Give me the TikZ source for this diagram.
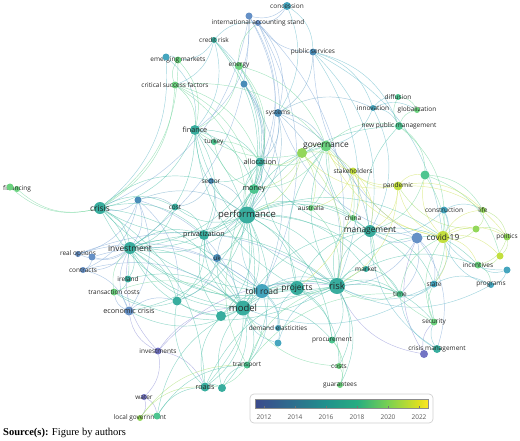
\documentclass[tikz,border=0pt]{standalone}
\usepackage{fontspec}
\setmainfont{Open Sans}
\newfontfamily\captionfont{Liberation Serif}
\usetikzlibrary{backgrounds}

\definecolor{nblue}{HTML}{6590C6}
\definecolor{nsteel}{HTML}{4A8DB8}
\definecolor{npurple}{HTML}{7374C4}
\definecolor{nteal}{HTML}{45A5BE}
\definecolor{nsea}{HTML}{38AD9E}
\definecolor{ngreen}{HTML}{4DC590}
\definecolor{nlight}{HTML}{6BD27E}
\definecolor{nlime}{HTML}{93D75A}
\definecolor{nyellow}{HTML}{C3DF3E}
\definecolor{eblue}{HTML}{7DA6D6}
\definecolor{esteel}{HTML}{6FA8C8}
\definecolor{epurple}{HTML}{8E90D6}
\definecolor{eteal}{HTML}{62B8C8}
\definecolor{esea}{HTML}{4DBFA8}
\definecolor{egreen}{HTML}{6ED49A}
\definecolor{elime}{HTML}{A5DD6A}
\definecolor{eyellow}{HTML}{CFE25A}
\definecolor{yA}{HTML}{3B4A8C}
\definecolor{yB}{HTML}{2D708E}
\definecolor{yC}{HTML}{21918C}
\definecolor{yD}{HTML}{27AD81}
\definecolor{yE}{HTML}{7AD151}
\definecolor{yF}{HTML}{E0E020}
\definecolor{yG}{HTML}{FDE725}
\pgfdeclarehorizontalshading{yearbar}{100bp}{color(0bp)=(yA); color(25bp)=(yA); color(36.5bp)=(yB); color(45.5bp)=(yC); color(54.5bp)=(yD); color(63.5bp)=(yE); color(72.5bp)=(yF); color(75bp)=(yG); color(100bp)=(yG)}

\begin{document}
\begin{tikzpicture}[
                x=1pt, y=-1pt,
                kw/.style={circle, inner sep=0pt, draw=none},
                ls/.style={font=\fontsize{6.5}{7}\selectfont, text=black!85, inner sep=0pt, fill=none},
                lm/.style={font=\fontsize{7.2}{8}\selectfont, text=black!85, inner sep=0pt, fill=none},
                ll/.style={font=\fontsize{8.4}{9}\selectfont, text=black!85, inner sep=0pt, fill=none},
                lx/.style={font=\fontsize{9.5}{10}\selectfont, text=black!85, inner sep=0pt, fill=none},
                link/.style={line width=0.45pt, draw opacity=0.6, bend left=27}
            ]

            \useasboundingbox (0,0) rectangle (520,440);

            \foreach \n/\x/\y/\d/\c/\f/\t in {
                    concession/287/6/8/nteal/ls/concession,
                    intacc/258/23/6/nblue/ls/international accounting stand,
                    creditrisk/214/40/6/nsea/ls/credit risk,
                    pubserv/313/52/7/nsteel/ls/public services,
                    emerging/178/60/7/nlight/ls/emerging markets,
                    energy/239/66/8/nlight/ls/energy,
                    csf/175/85/7/nlight/ls/critical success factors,
                    diffusion/398/97/6/ngreen/ls/diffusion,
                    innovation/373/108/6/nteal/ls/innovation,
                    global/417/110/6/nlight/ls/globalization,
                    systems/278/113/8/nsteel/ls/systems,
                    npm/399/126/8/ngreen/ls/new public management,
                    finance/195/130/10/nsea/lm/finance,
                    turkey/214/142/6/ngreen/ls/turkey,
                    gov/326/146/11/nlight/ll/governance,
                    alloc/260/162/9/nsea/lm/allocation,
                    stake/353/171/7/nyellow/ls/stakeholders,
                    sector/211/181/6/nsteel/ls/sector,
                    pandemic/398/186/9/nyellow/ls/pandemic,
                    financing/17/189/6/nlight/ls/financing,
                    money/254/189/10/ngreen/lm/money,
                    cost/175/207/7/nsea/ls/cost,
                    crisis/100/208/12/nsea/ll/crisis,
                    australia/311/208/6/nlight/ls/australia,
                    construction/444/210/7/nteal/ls/construction,
                    life/483/210/6/nlime/ls/life,
                    perf/247/215/17/nsea/lx/performance,
                    china/353/218/6/nlight/ls/china,
                    mgmt/370/231/12/nsea/ll/management,
                    priv/204/235/10/nsea/lm/privatization,
                    covid/443/237/12/nyellow/ll/covid-19,
                    politics/507/237/7/nlime/ls/politics,
                    invest/130/248/12/nsea/ll/investment,
                    realopt/78/254/6/nblue/ls/real options,
                    uk/217/258/8/nsteel/ls/uk,
                    incentives/478/265/7/nlight/ls/incentives,
                    market/366/269/6/nsea/ls/market,
                    contracts/83/270/6/nblue/ls/contracts,
                    ireland/128/279/7/nsea/ls/ireland,
                    state/434/284/7/nteal/ls/state,
                    programs/491/285/6/nteal/ls/programs,
                    risk/337/286/16/nsea/lx/risk,
                    projects/297/288/14/nsea/ll/projects,
                    tollroad/262/291/14/nteal/ll/toll road,
                    transcosts/114/292/7/nlight/ls/transaction costs,
                    time/400/294/7/ngreen/ls/time,
                    model/243/308/15/nsea/lx/model,
                    econcrisis/129/311/9/nblue/lm/economic crisis,
                    security/434/322/7/nlight/ls/security,
                    demand/278/328/6/nteal/ls/demand elasticities,
                    procurement/332/340/7/ngreen/ls/procurement,
                    crisismgmt/437/349/8/nsea/ls/crisis management,
                    investments/158/351/7/npurple/ls/investments,
                    transport/247/365/7/ngreen/ls/transport,
                    costs/339/366/6/nlight/ls/costs,
                    guarantees/340/385/6/nlight/ls/guarantees,
                    roads/205/387/9/nsea/lm/roads,
                    water/144/397/6/npurple/ls/water,
                    localgov/140/418/6/nlime/ls/local government}
                \node[kw, minimum size=\d pt, fill=\c, label={[\f]center:\t}] (\n) at (\x,\y) {};

            \foreach \n/\x/\y/\d/\c in {
                    intaccB/249/16/7/nblue, emergingB/166/57/7/nteal, energyB/244/84/7/nsteel,
                    govB/302/153/10/nlime, pandemicB/425/175/9/ngreen, financingB/10/187/7/nlight,
                    crisisB/138/200/7/nsteel, covidB/417/238/11/nblue, lifeB/476/229/7/nlime,
                    politicsB/500/256/7/nyellow, incentB/507/270/7/nteal, realoptB/92/257/7/nblue,
                    econB/177/301/9/nsea, modelB/221/316/10/nsea, demandB/278/343/7/nteal,
                    crisismgmtB/424/354/8/npurple, roadsB/222/388/8/nsea, localgovB/157/416/7/ngreen}
                \node[kw, minimum size=\d pt, fill=\c] (\n) at (\x,\y) {};

            \begin{scope}[on background layer]
                \foreach \a/\b in {intacc/perf, intaccB/finance, intaccB/crisis, intaccB/alloc, intacc/systems, intacc/tollroad,
                        intaccB/invest, concession/intacc, concession/intaccB, intacc/intaccB, pubserv/intacc, covidB/state,
                        covidB/crisismgmt, covidB/pubserv, covidB/systems, covidB/risk, covidB/mgmt, covidB/time, crisisB/invest,
                        crisisB/realopt, crisisB/contracts, crisisB/econcrisis, crisisB/econB, crisisB/crisis, invest/realopt,
                        invest/realoptB, invest/contracts, realopt/realoptB, realoptB/contracts, contracts/econcrisis,
                        realopt/tollroad, realoptB/tollroad, contracts/model, econcrisis/invest, econcrisis/econB,
                        econcrisis/transcosts, intaccB/money, intacc/risk, crisisB/model, realopt/risk}
                    \draw[link, eblue] (\a) to (\b);
                \foreach \a/\b in {pubserv/systems, systems/perf, systems/gov, systems/mgmt, systems/innovation, systems/alloc,
                        systems/risk, uk/priv, uk/tollroad, uk/perf, uk/econB, sector/priv, sector/cost, sector/perf,
                        energyB/alloc, energyB/tollroad, energyB/money, energyB/perf, crisisB/cost, crisisB/perf}
                    \draw[link, esteel] (\a) to (\b);
                \foreach \a/\b in {investments/water, investments/econcrisis, investments/model, investments/risk,
                        water/localgov, water/localgovB, crisismgmtB/security, crisismgmtB/covidB, crisismgmtB/risk,
                        investments/roads, investments/invest}
                    \draw[link, epurple] (\a) to (\b);
                \foreach \a/\b in {concession/pubserv, pubserv/risk, pubserv/mgmt, pubserv/innovation, pubserv/npm,
                        pubserv/covid, creditrisk/finance, creditrisk/csf, creditrisk/emerging, creditrisk/alloc,
                        creditrisk/intacc, tollroad/demand, tollroad/demandB, tollroad/transport, tollroad/priv, tollroad/perf,
                        tollroad/projects, tollroad/model, tollroad/risk, demand/model, demandB/model, demandB/risk,
                        demand/projects, construction/covid, construction/mgmt, construction/life, construction/state,
                        state/programs, state/time, state/risk, state/model, incentB/programs, incentB/incentives, incentB/covid,
                        programs/covid, crisismgmt/security, crisismgmt/time, crisismgmt/mgmt, innovation/npm,
                        innovation/diffusion, innovation/global, innovation/gov, innovation/mgmt, emergingB/finance,
                        emergingB/crisis, emergingB/emerging, concession/systems, programs/risk}
                    \draw[link, eteal] (\a) to (\b);
                \foreach \a/\b in {perf/model, perf/risk, perf/projects, perf/mgmt, perf/invest, perf/crisis, perf/gov,
                        perf/alloc, perf/money, perf/priv, perf/finance, perf/cost, perf/roads, perf/transport, perf/econB,
                        perf/modelB, perf/australia, perf/china, perf/econcrisis, perf/procurement, perf/time, perf/covid,
                        perf/market, perf/npm, model/risk, model/projects, model/transport, model/roads, model/roadsB,
                        model/invest, model/priv, model/crisis, model/econcrisis, model/mgmt, model/econB, model/uk,
                        model/procurement, model/time, model/money, risk/projects, risk/mgmt, risk/covid, risk/market,
                        risk/time, risk/procurement, risk/costs, risk/guarantees, risk/gov, risk/alloc, risk/invest,
                        risk/crisis, risk/china, risk/security, risk/finance, risk/incentives, risk/transcosts, projects/mgmt,
                        projects/gov, projects/invest, projects/procurement, projects/finance, projects/uk, projects/costs,
                        mgmt/gov, mgmt/npm, mgmt/state, mgmt/incentives, mgmt/security, mgmt/market, mgmt/china, mgmt/alloc,
                        market/time, finance/turkey, finance/alloc, finance/money, finance/crisis, finance/invest,
                        finance/priv, alloc/money, alloc/sector, alloc/priv, alloc/invest, money/priv, money/invest,
                        money/uk, crisis/cost, crisis/invest, crisis/priv, crisis/ireland, crisis/sector, cost/priv,
                        cost/invest, invest/ireland, invest/priv, invest/uk, invest/econB, priv/econB, roads/roadsB,
                        roads/modelB, roads/econB, roadsB/transport, roadsB/model, localgovB/roads, localgovB/transport,
                        localgovB/model, modelB/priv, modelB/invest, modelB/risk, econB/transcosts, ireland/transcosts,
                        ireland/model, creditrisk/perf, creditrisk/money, crisis/model, crisis/roads, roads/risk,
                        finance/model, invest/model, invest/risk}
                    \draw[link, esea] (\a) to (\b);
                \foreach \a/\b in {crisis/financing, crisis/financingB, financing/financingB, csf/finance, csf/alloc,
                        csf/money, csf/gov, csf/crisis, csf/emerging, emerging/finance, energy/finance, energy/alloc,
                        energy/money, energy/gov, energy/intacc, npm/diffusion, npm/global, npm/pandemicB, npm/covid,
                        diffusion/global, pandemicB/life, pandemicB/politicsB, pandemicB/mgmt, pandemicB/state, gov/alloc,
                        gov/money, gov/npm, gov/australia, gov/finance, gov/china, money/turkey, turkey/alloc,
                        procurement/costs, costs/guarantees, procurement/guarantees, transport/risk, transport/roads,
                        transport/perf, security/state, security/covid, security/mgmt, incentives/programs, time/risk,
                        time/covid, australia/china, australia/risk, transcosts/invest, transcosts/model, csf/perf,
                        emerging/crisis, transport/time, costs/model}
                    \draw[link, egreen] (\a) to (\b);
                \foreach \a/\b in {govB/gov, govB/alloc, govB/money, govB/stake, govB/australia, govB/perf, govB/risk,
                        life/politics, life/lifeB, lifeB/politics, lifeB/covid, lifeB/pandemic, politics/politicsB,
                        politics/incentives, politicsB/incentives, localgov/localgovB, localgov/roads, localgov/transport}
                    \draw[link, elime] (\a) to (\b);
                \foreach \a/\b in {covid/pandemic, covid/life, covid/lifeB, covid/politics, covid/politicsB,
                        covid/incentives, covid/state, covid/gov, covid/stake, covid/pandemicB, pandemic/stake,
                        pandemic/pandemicB, pandemic/life, pandemic/govB, pandemic/gov, pandemic/politics, pandemic/mgmt,
                        pandemic/risk, stake/gov, stake/mgmt, stake/australia, stake/projects, stake/china}
                    \draw[link, eyellow] (\a) to (\b);
            \end{scope}

            \node[draw=black!18, line width=0.7pt, rounded corners=4pt, fill=white,
                minimum width=183pt, minimum height=29pt] (legend) at (341.5,408.5) {};
            \shade[shading=yearbar, draw=black!45, line width=0.3pt] (255,399) rectangle (428,408);
            \foreach \yr [count=\i from 0] in {2012,2014,...,2022} {
                    \draw[black!55, line width=0.4pt] (264+31*\i,408) -- ++(0,-2.5);
                    \node[font=\fontsize{6.5}{7}\selectfont, text=black!65] (y\yr) at (264+31*\i,417) {\yr};
                }

            \node[anchor=west, inner sep=0pt, font=\captionfont\fontsize{10.5}{12}\selectfont] (source) at (3,433)
                {\textbf{Source(s):} Figure by authors};

        \end{tikzpicture}
\end{document}
